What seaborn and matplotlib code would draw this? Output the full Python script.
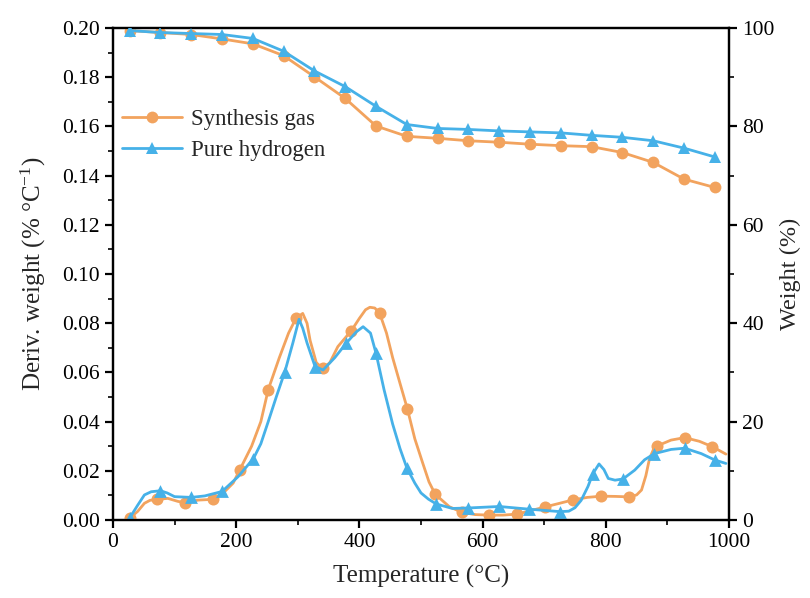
import matplotlib
matplotlib.use("Agg")
import matplotlib.pyplot as plt
from matplotlib.lines import Line2D
from matplotlib.ticker import MultipleLocator, FormatStrFormatter
import seaborn as sns
import pandas as pd

# ---------------- data ----------------
# TG curves (right axis, Weight %)
tg_T = [27, 77, 127, 177, 227, 277, 327, 377, 427, 477,
        527, 577, 627, 677, 727, 777, 827, 877, 927, 977]
tg_syngas = [99.5, 99.1, 98.7, 97.8, 96.8, 94.4, 90.1, 85.7, 80.1, 78.0,
             77.6, 77.1, 76.8, 76.4, 76.1, 75.9, 74.7, 72.7, 69.3, 67.6]
tg_hydrogen = [99.5, 99.1, 98.9, 98.7, 97.9, 95.3, 91.3, 88.1, 84.1, 80.4,
               79.6, 79.4, 79.1, 78.9, 78.7, 78.2, 77.8, 77.1, 75.6, 73.8]

# DTG curves (left axis) - traced line
dtg_syn_line_T = [27, 40, 51, 60, 72, 89, 105, 117, 138, 162, 181, 195, 206, 225,
                  240, 252, 270, 285, 297, 308, 315, 320, 330, 341, 352, 365,
                  387, 400, 410, 417, 425, 433, 444, 454, 466, 478, 490, 503,
                  513, 523, 546, 567, 588, 611, 633, 656, 678, 701, 725, 747,
                  770, 793, 816, 838, 850, 858, 865, 871, 877, 883, 906, 928,
                  952, 973, 995]
dtg_syn_line = [0.0008, 0.0035, 0.0068, 0.0080, 0.0084, 0.0088, 0.0076, 0.0070,
                0.0081, 0.0084, 0.0115, 0.0150, 0.0205, 0.0300, 0.0400, 0.0530,
                0.0660, 0.0760, 0.0820, 0.0840, 0.0800, 0.0730, 0.0640, 0.0615,
                0.0640, 0.0705, 0.0770, 0.0820, 0.0855, 0.0865, 0.0862, 0.0840,
                0.0760, 0.0660, 0.0555, 0.0451, 0.0330, 0.0230, 0.0155, 0.0105,
                0.0054, 0.0031, 0.0022, 0.0020, 0.0020, 0.0024, 0.0038, 0.0053,
                0.0068, 0.0082, 0.0092, 0.0097, 0.0096, 0.0094, 0.0102, 0.0122,
                0.0180, 0.0250, 0.0285, 0.0301, 0.0325, 0.0335, 0.0320, 0.0298,
                0.0268]
dtg_h2_line_T = [27, 40, 51, 62, 77, 88, 100, 127, 149, 177, 203, 228, 240, 252,
                 265, 279, 292, 302, 308, 315, 328, 341, 360, 379, 395, 406,
                 418, 427, 440, 454, 466, 477, 490, 500, 512, 525, 551, 577,
                 627, 676, 726, 740, 750, 760, 771, 779, 789, 797, 804, 815,
                 828, 847, 863, 879, 906, 928, 955, 977, 995]
dtg_h2_line = [0.0008, 0.0060, 0.0102, 0.0115, 0.0119, 0.0110, 0.0095, 0.0092,
               0.0098, 0.0116, 0.0176, 0.0250, 0.0310, 0.0400, 0.0500, 0.0603,
               0.0720, 0.0816, 0.0780, 0.0720, 0.0624, 0.0610, 0.0660, 0.0720,
               0.0765, 0.0786, 0.0760, 0.0678, 0.0530, 0.0390, 0.0290, 0.0212,
               0.0150, 0.0110, 0.0085, 0.0065, 0.0047, 0.0049, 0.0055, 0.0044,
               0.0034, 0.0036, 0.0050, 0.0080, 0.0136, 0.0188, 0.0228, 0.0205,
               0.0169, 0.0162, 0.0167, 0.0203, 0.0245, 0.0270, 0.0287, 0.0292,
               0.0270, 0.0244, 0.0230]

# DTG marker points
dtg_syn_mk_T = [27, 72, 117, 162, 206, 252, 297, 341, 387, 433, 478,
                523, 567, 611, 656, 701, 747, 793, 838, 883, 928, 973]
dtg_syn_mk = [0.0008, 0.0084, 0.0070, 0.0084, 0.0205, 0.0530, 0.0820, 0.0618,
              0.0770, 0.0840, 0.0451, 0.0105, 0.0031, 0.0021, 0.0024, 0.0053,
              0.0082, 0.0097, 0.0094, 0.0301, 0.0335, 0.0298]
dtg_h2_mk_T = [27, 77, 127, 177, 228, 279, 328, 379, 427, 477,
               525, 577, 627, 676, 726, 779, 828, 879, 928, 977]
dtg_h2_mk = [0.0008, 0.0119, 0.0092, 0.0116, 0.0250, 0.0603, 0.0624, 0.0720,
             0.0678, 0.0212, 0.0065, 0.0049, 0.0055, 0.0044, 0.0034, 0.0188,
             0.0167, 0.0270, 0.0292, 0.0244]

labels = ["Synthesis gas", "Pure hydrogen"]
x_label = "Temperature (°C)"
y_left_label = "Deriv. weight (% °C$^{-1}$)"
y_right_label = "Weight (%)"

# ---------------- style ----------------
sns.set_style("ticks")
plt.rcParams["font.family"] = ["Liberation Serif", "DejaVu Serif"]
plt.rcParams["mathtext.fontset"] = "custom"
plt.rcParams["mathtext.rm"] = "Liberation Serif"
plt.rcParams["mathtext.it"] = "Liberation Serif:italic"

ORANGE = "#F2A35E"
BLUE = "#46B1E8"
LW = 2.0

fig = plt.figure(figsize=(8.10, 5.98), dpi=100)
ax = fig.add_axes([0.1395, 0.1304, 0.7605, 0.8226])
ax2 = ax.twinx()

# DTG (left axis)
sns.lineplot(x=dtg_syn_line_T, y=dtg_syn_line, ax=ax, color=ORANGE, lw=LW,
             estimator=None, zorder=2)
sns.scatterplot(x=dtg_syn_mk_T, y=dtg_syn_mk, ax=ax, color=ORANGE, marker="o",
                s=75, edgecolor=ORANGE, linewidth=0, zorder=3)
sns.lineplot(x=dtg_h2_line_T, y=dtg_h2_line, ax=ax, color=BLUE, lw=LW,
             estimator=None, zorder=4)
sns.scatterplot(x=dtg_h2_mk_T, y=dtg_h2_mk, ax=ax, color=BLUE, marker="^",
                s=85, edgecolor=BLUE, linewidth=0, zorder=5)

# TG (right axis)
sns.lineplot(x=tg_T, y=tg_syngas, ax=ax2, color=ORANGE, lw=LW, marker="o",
             markersize=8.5, markeredgewidth=0, estimator=None, zorder=2)
sns.lineplot(x=tg_T, y=tg_hydrogen, ax=ax2, color=BLUE, lw=LW, marker="^",
             markersize=9, markeredgewidth=0, estimator=None, zorder=3)

# axes limits & ticks
ax.set_xlim(0, 1000)
ax.set_ylim(0, 0.20)
ax2.set_ylim(0, 100)
ax.xaxis.set_major_locator(MultipleLocator(200))
ax.xaxis.set_minor_locator(MultipleLocator(100))
ax.yaxis.set_major_locator(MultipleLocator(0.02))
ax.yaxis.set_minor_locator(MultipleLocator(0.01))
ax.yaxis.set_major_formatter(FormatStrFormatter("%.2f"))
ax2.yaxis.set_major_locator(MultipleLocator(20))
ax2.yaxis.set_minor_locator(MultipleLocator(10))

for a in (ax, ax2):
    for sp in a.spines.values():
        sp.set_linewidth(1.6)
        sp.set_color("black")
    a.tick_params(which="major", direction="out", length=6, width=1.6,
                  labelsize=15.5, colors="black")
    a.tick_params(which="minor", direction="out", length=3.5, width=1.4)
ax.tick_params(axis="x", which="both", top=False)
ax.tick_params(axis="y", which="both", right=False)

ax.set_xlabel(x_label, fontsize=18, labelpad=9)
ax.set_ylabel(y_left_label, fontsize=18, labelpad=10)
ax2.set_ylabel(y_right_label, fontsize=17.5, labelpad=4)

handles = [
    Line2D([], [], color=ORANGE, lw=LW, marker="o", markersize=8.5, markeredgewidth=0),
    Line2D([], [], color=BLUE, lw=LW, marker="^", markersize=9, markeredgewidth=0),
]
ax.legend(handles, labels, loc="upper left", bbox_to_anchor=(0.0, 0.855),
          frameon=False, fontsize=16.5, handlelength=2.6, handletextpad=0.4,
          labelspacing=0.45, borderaxespad=0)

fig.savefig("out.png", dpi=100)
